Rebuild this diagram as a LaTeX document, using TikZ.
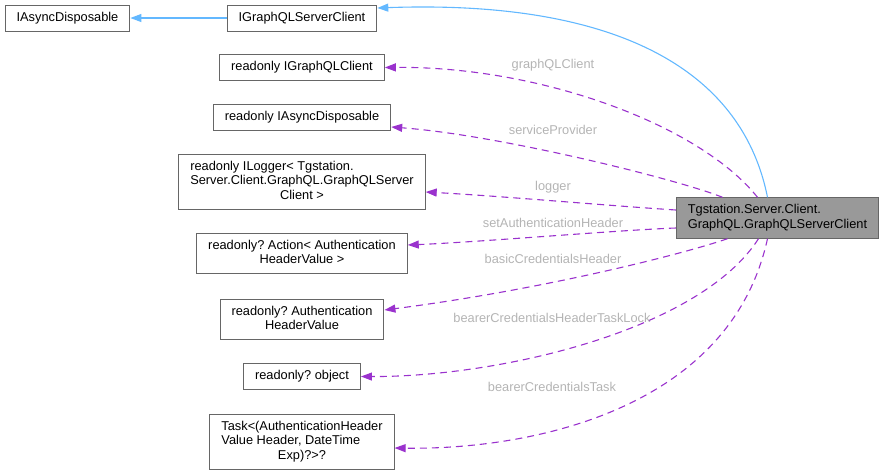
\documentclass[tikz,border=0pt]{standalone}
\usepackage{fontspec}
\setmainfont{Liberation Sans}
\usetikzlibrary{arrows.meta}
\definecolor{boxline}{HTML}{666666}
\definecolor{mainfill}{HTML}{999999}
\definecolor{inhblue}{HTML}{63B8FF}
\definecolor{memorchid}{HTML}{9A32CD}
\definecolor{lblgrey}{HTML}{B4B4B4}
\frenchspacing

\begin{document}
\begin{tikzpicture}[x=1pt,y=-1pt,
  box/.style={draw=boxline,line width=1pt,fill=white,inner xsep=11.5pt,inner ysep=5.5pt,
    minimum height=26pt,font=\fontsize{12.8}{14.7}\selectfont},
  mainbox/.style={box,fill=mainfill},
  inherit/.style={draw=inhblue,line width=1.1pt,-{Triangle[length=11pt,width=8pt]}},
  member/.style={draw=memorchid,line width=1.1pt,dash pattern=on 7pt off 5pt,
    -{Triangle[length=11pt,width=8pt]}},
  lbl/.style={text=lblgrey,inner sep=0pt,font=\fontsize{12.8}{14.7}\selectfont}]
 \useasboundingbox (0,0) rectangle (884,475);
 % the class itself
 \node[mainbox] (main) at (777.5,218) {\begin{tabular}{@{}l@{}}Tgstation.Server.Client.\\GraphQL.GraphQLServerClient\end{tabular}};
 % base classes
 \node[box] (async) at (67.5,18) {IAsyncDisposable};
 \node[box] (iface) at (302,18) {IGraphQLServerClient};
 % member types
 \node[box] (gqlclient) at (302,67.5) {readonly IGraphQLClient};
 \node[box] (provider) at (302,117) {readonly IAsyncDisposable};
 \node[box] (logbox) at (302,182) {\begin{tabular}{@{}l@{}}readonly ILogger< Tgstation.\\Server.Client.GraphQL.GraphQLServer\\\multicolumn{1}{@{}c@{}}{Client >}\end{tabular}};
 \node[box] (action) at (302,253.5) {\begin{tabular}{@{}c@{}}readonly? Action< Authentication\\HeaderValue >\end{tabular}};
 \node[box] (authhv) at (302,319.5) {\begin{tabular}{@{}c@{}}readonly? Authentication\\HeaderValue\end{tabular}};
 \node[box] (lockobj) at (302,376.5) {readonly? object};
 \node[box] (task) at (302,442) {\begin{tabular}{@{}l@{}}Task<(AuthenticationHeader\\Value Header, DateTime\\\multicolumn{1}{@{}c@{}}{Exp)?>?}\end{tabular}};

 % inheritance
 \draw[inherit] (iface.west) -- (async.east);
 \draw[inherit] ([xshift=-10pt]main.north) .. controls (740,60) and (600,0) .. ([yshift=10pt]iface.east);

 % members
 \draw[member] ([xshift=-20pt]main.north) .. controls (700,125) and (540,66) .. (gqlclient.east);
 \draw[member] ([xshift=-55pt]main.north) .. controls (680,180) and (500,135) .. ([yshift=-10pt]provider.east);
 \draw[member] ([yshift=8pt]main.west) .. controls (600,205) and (500,196) .. ([yshift=-10pt]logbox.east);
 \draw[member] ([yshift=-10pt]main.west) .. controls (620,230) and (480,242) .. ([yshift=8.5pt]action.east);
 \draw[member] ([xshift=-50pt]main.south) .. controls (680,255) and (540,290) .. ([yshift=9.5pt]authhv.east);
 \draw[member] ([xshift=-19pt]main.south) .. controls (700,330) and (500,377) .. (lockobj.east);
 \draw[member] ([xshift=-10pt]main.south) .. controls (730,410) and (530,450) .. ([yshift=-6pt]task.east);

 \node[lbl] (lclient) at (553,65) {graphQLClient};
 \node[lbl] (lprovider) at (553,130) {serviceProvider};
 \node[lbl] (llogger) at (553,187) {logger};
 \node[lbl] (lsetauth) at (553,223) {setAuthenticationHeader};
 \node[lbl] (lbasic) at (553,259) {basicCredentialsHeader};
 \node[lbl] (llock) at (552,318) {bearerCredentialsHeaderTaskLock};
 \node[lbl] (ltask) at (552,387) {bearerCredentialsTask};
\end{tikzpicture}
\end{document}
